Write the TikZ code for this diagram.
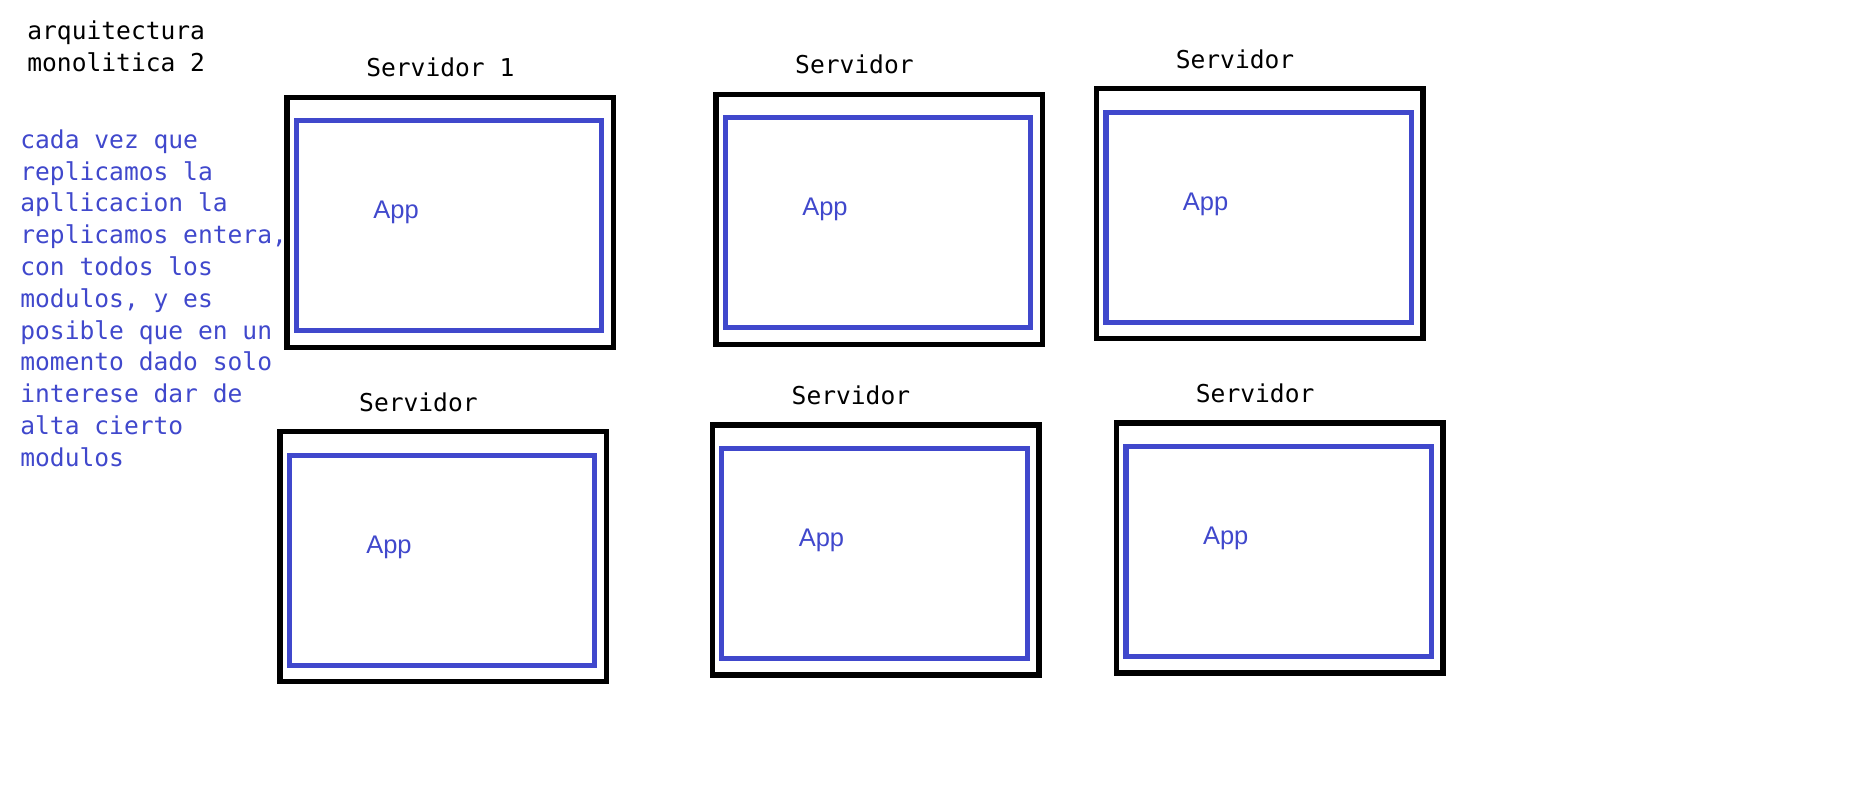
\documentclass[tikz,border=0pt]{standalone}
\usepackage{fontspec}
\setmainfont{Liberation Sans}
\setmonofont{DejaVu Sans Mono}
\definecolor{AppBlue}{RGB}{64, 72, 204}
\usetikzlibrary{positioning}

\begin{document}
\begin{tikzpicture}[x=0.02cm, y=-0.02cm,
                srv/.style={draw=black, line width=3pt, minimum width=6.53cm, minimum height=5.0cm, inner sep=0pt},
                app/.style={draw=AppBlue, line width=3pt, minimum width=6.11cm, minimum height=4.2cm, inner sep=0pt},
                mono/.style={font=\ttfamily\fontsize{14}{18.1}\selectfont, inner sep=0pt, align=left},
                lbl/.style={mono, anchor=base west},
                apptxt/.style={font=\fontsize{14.5}{17}\selectfont, text=AppBlue, inner sep=0pt, anchor=base west}
            ]
                \useasboundingbox (0,0) rectangle (1853,802);

                % Titulo y nota (anclados en la linea base de su ultima linea)
                \node[mono, anchor=base west] (titulo) at (27, 71.7) {arquitectura\\monolitica 2};
                \node[mono, anchor=base west, text=AppBlue] (nota) at (20, 466.2) {cada vez que\\replicamos la\\apllicacion la\\replicamos entera,\\con todos los\\modulos, y es\\posible que en un\\momento dado solo\\interese dar de\\alta cierto\\modulos};

                % Fila de arriba
                \node[srv] (s1) at (450.3, 222.2) {};
                \node[app] (a1) at ([shift={(-1.2, 3.6)}]s1.center) {};
                \node[lbl] (l1) at ([shift={(81.5, -18)}]s1.north west) {Servidor 1};
                \node[apptxt] (t1) at ([shift={(88.6, -3.3)}]s1.west) {App};

                \node[srv] (s2) at (879.2, 219.2) {};
                \node[app] (a2) at ([shift={(-1.2, 3.6)}]s2.center) {};
                \node[lbl] (l2) at ([shift={(81.5, -18)}]s2.north west) {Servidor};
                \node[apptxt] (t2) at ([shift={(88.6, -3.3)}]s2.west) {App};

                \node[srv] (s3) at (1259.8, 213.8) {};
                \node[app] (a3) at ([shift={(-1.2, 3.6)}]s3.center) {};
                \node[lbl] (l3) at ([shift={(81.5, -18)}]s3.north west) {Servidor};
                \node[apptxt] (t3) at ([shift={(88.6, -3.3)}]s3.west) {App};

                % Fila de abajo
                \node[srv] (s4) at (443.2, 556.7) {};
                \node[app] (a4) at ([shift={(-1.2, 3.6)}]s4.center) {};
                \node[lbl] (l4) at ([shift={(81.5, -18)}]s4.north west) {Servidor};
                \node[apptxt] (t4) at ([shift={(88.6, -3.3)}]s4.west) {App};

                \node[srv] (s5) at (875.7, 550.0) {};
                \node[app] (a5) at ([shift={(-1.2, 3.6)}]s5.center) {};
                \node[lbl] (l5) at ([shift={(81.5, -18)}]s5.north west) {Servidor};
                \node[apptxt] (t5) at ([shift={(88.6, -3.3)}]s5.west) {App};

                \node[srv] (s6) at (1279.9, 548.0) {};
                \node[app] (a6) at ([shift={(-1.2, 3.6)}]s6.center) {};
                \node[lbl] (l6) at ([shift={(81.5, -18)}]s6.north west) {Servidor};
                \node[apptxt] (t6) at ([shift={(88.6, -3.3)}]s6.west) {App};
            \end{tikzpicture}
\end{document}
